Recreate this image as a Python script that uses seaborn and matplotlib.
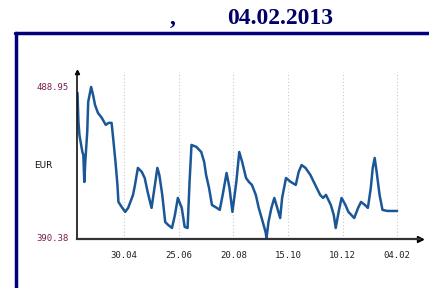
import pandas as pd
import matplotlib.pyplot as plt
import matplotlib.lines as mlines
import seaborn as sns

# EUR rate (days counted from 13.03.2012)
start_date = "2012-03-13"
days = [0, 1, 2, 5, 6, 7, 8, 10, 11, 14, 16, 18, 21, 25, 29, 32, 35, 37, 39, 41,
        42, 46, 49, 52, 57, 59, 62, 66, 69, 72, 76, 79, 82, 84, 87, 90, 93, 97, 100, 103,
        107, 110, 113, 115, 117, 122, 127, 130, 132, 135, 138, 143, 146, 149, 153, 156, 159, 163, 166, 169,
        173, 176, 179, 183, 186, 189, 193, 194, 196, 199, 202, 205, 208, 210, 214, 219, 224, 227, 230, 234,
        239, 244, 249, 252, 255, 260, 263, 265, 268, 271, 275, 278, 284, 288, 291, 295, 298, 301, 303, 305,
        307, 310, 313, 318, 328]
rate = [485.0, 466.1, 457.6, 446.5, 444.6, 426.9, 440.0, 459.6, 479.2, 488.95, 483.7, 477.2, 472.0, 468.7, 464.2, 465.5, 465.5, 453.0, 440.0, 425.0,
        413.9, 410.0, 407.4, 410.0, 418.5, 425.0, 436.1, 433.5, 429.5, 420.4, 410.0, 423.0, 436.1, 431.5, 418.5, 400.8, 398.9, 396.9, 405.4, 416.5,
        410.0, 397.6, 396.9, 426.9, 451.1, 449.8, 446.5, 440.0, 431.5, 423.0, 411.9, 410.0, 408.7, 418.5, 432.8, 423.0, 407.4, 426.9, 446.5, 440.0,
        429.5, 426.9, 425.0, 418.5, 410.0, 403.4, 394.3, 390.38, 400.8, 410.0, 416.5, 410.0, 403.4, 416.5, 429.5, 426.9, 425.0, 433.5, 438.0, 436.1,
        431.5, 425.0, 418.5, 416.5, 418.5, 411.9, 405.4, 396.9, 407.4, 416.5, 411.9, 407.4, 403.4, 410.0, 413.9, 411.9, 410.0, 423.0, 436.1, 442.6,
        433.5, 418.5, 408.7, 408.0, 408.0]
tick_dates = ["2012-04-30", "2012-06-25", "2012-08-20", "2012-10-15", "2012-12-10", "2013-02-04"]
tick_labels = ["30.04", "25.06", "20.08", "15.10", "10.12", "04.02"]
y_labels = ["488.95", "390.38"]

df = pd.DataFrame({
    "date": pd.to_datetime(start_date) + pd.to_timedelta(days, unit="D"),
    "rate": rate,
})

sns.set_style("white")
fig = plt.figure(figsize=(4.29, 2.88), dpi=100)
ax = fig.add_axes([77 / 429, 49 / 288, 343 / 429, 167 / 288])

# dotted vertical grid at the date ticks
for d in tick_dates:
    ax.axvline(pd.Timestamp(d), color="#c8c8c8", lw=0.8, ls=(0, (1, 2)), zorder=0)

sns.lineplot(data=df, x="date", y="rate", ax=ax, color="#1b5796", lw=1.8)

x0 = pd.Timestamp(start_date) - pd.Timedelta(days=0.5)
ax.set_xlim(x0, x0 + pd.Timedelta(days=352))
ax.set_ylim(389.7, 498.7)

ax.set_xticks(pd.to_datetime(tick_dates))
ax.set_xticklabels(tick_labels, fontfamily="DejaVu Sans Mono", fontsize=6.5, color="#222222")
ax.set_yticks([float(v) for v in y_labels])
ax.set_yticklabels(y_labels, fontfamily="DejaVu Sans Mono", fontsize=6.5, color="#7a1f4e")
ax.tick_params(axis="both", length=0, pad=6)
ax.tick_params(axis="x", pad=9)
ax.set_xlabel("")
ax.set_ylabel("")

for side in ["top", "right"]:
    ax.spines[side].set_visible(False)
ax.spines["left"].set_color("#111111")
ax.spines["left"].set_linewidth(1.2)
ax.spines["bottom"].set_color("#333333")
ax.spines["bottom"].set_linewidth(1.6)

# axis arrows
ax.plot([1.0], [0.0], marker=">", ms=4, color="black", transform=ax.transAxes, clip_on=False)
ax.plot([0.0], [1.0], marker="^", ms=3, color="black", transform=ax.transAxes, clip_on=False)

fig.text(43 / 429, 1 - 165 / 288, "EUR", fontfamily="DejaVu Sans", fontsize=6.5,
         ha="center", va="center", color="#111111")

# title
fig.text(170 / 429, 1 - 18 / 288, ",", fontfamily="Liberation Serif", fontweight="bold",
         fontsize=17, color="#000066", ha="left", va="center")
fig.text(227 / 429, 1 - 18 / 288, "04.02.2013", fontfamily="Liberation Serif", fontweight="bold",
         fontsize=17, color="#000066", ha="left", va="center")

# navy frame (left and top edges)
fig.add_artist(mlines.Line2D([16 / 429, 16 / 429], [0, 1 - 33 / 288], color="#00007a", lw=2.5))
fig.add_artist(mlines.Line2D([15 / 429, 1], [1 - 33 / 288, 1 - 33 / 288], color="#00007a", lw=2.5))

fig.savefig("out.png", dpi=100)
